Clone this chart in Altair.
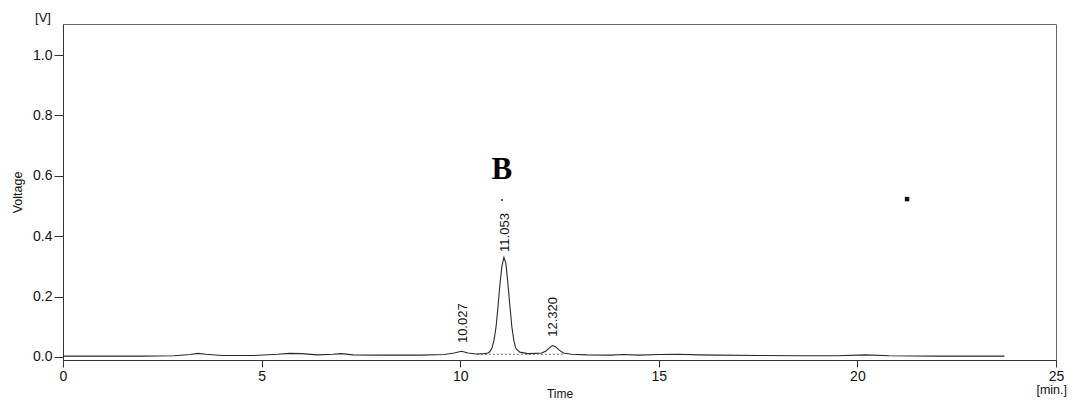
import altair as alt
import pandas as pd

# chromatogram trace (time in min, voltage in V)
time = [0.0, 1.0, 2.0, 2.8, 3.2, 3.4, 3.6, 4.0, 4.8, 5.4, 5.7, 6.0, 6.4, 6.8, 7.0, 7.3,
        8.0, 9.0, 9.6, 9.85, 10.03, 10.2, 10.4, 10.6, 10.7, 10.75, 10.8, 10.85, 10.9,
        10.95, 11.0, 11.05, 11.1, 11.15, 11.2, 11.25, 11.3, 11.35, 11.4, 11.5, 11.7,
        11.9, 12.05, 12.15, 12.25, 12.32, 12.4, 12.5, 12.6, 12.8, 13.2, 13.8, 14.1,
        14.5, 15.0, 15.5, 16.0, 16.5, 17.5, 18.5, 19.5, 20.2, 20.8, 22.0, 23.0, 23.7]
voltage = [0.003, 0.003, 0.003, 0.004, 0.008, 0.012, 0.009, 0.005, 0.005, 0.009, 0.012,
           0.011, 0.007, 0.009, 0.011, 0.007, 0.006, 0.006, 0.008, 0.013, 0.019, 0.013,
           0.010, 0.011, 0.013, 0.018, 0.030, 0.055, 0.097, 0.164, 0.240, 0.300, 0.330,
           0.310, 0.245, 0.170, 0.100, 0.055, 0.028, 0.016, 0.011, 0.012, 0.013, 0.019,
           0.030, 0.038, 0.034, 0.022, 0.013, 0.009, 0.007, 0.006, 0.008, 0.006, 0.008,
           0.009, 0.007, 0.006, 0.005, 0.004, 0.004, 0.007, 0.004, 0.003, 0.003, 0.003]

# peak labels
peak_time = [10.07, 11.12, 12.34]
peak_top = [0.046, 0.348, 0.067]
peak_label = ["10.027", "11.053", "12.320"]

# dashed baseline under peaks
base_time = [10.42, 12.6]
base_volt = [0.009, 0.009]

x_ticks = [0, 5, 10, 15, 20, 25]
y_ticks = [0.0, 0.2, 0.4, 0.6, 0.8, 1.0]

trace = pd.DataFrame({"t": time, "v": voltage})
peaks = pd.DataFrame({"t": peak_time, "v": peak_top, "label": peak_label})
base = pd.DataFrame({"t": base_time, "v": base_volt})

xs = alt.Scale(domain=[0, 25], nice=False, zero=False)
ys = alt.Scale(domain=[-0.01, 1.103], nice=False, zero=False)

x_enc = alt.X("t:Q", scale=xs, axis=alt.Axis(
    values=x_ticks, title="Time", format="d", labelFlush=False,
    labelFont="Liberation Sans", labelFontSize=14, labelColor="#111",
    titleFont="Liberation Sans", titleFontSize=12, titleFontWeight="normal",
    titleColor="#111", titlePadding=5, tickSize=7, tickColor="#333",
    domainColor="#333", labelPadding=2, grid=False))
y_enc = alt.Y("v:Q", scale=ys, axis=alt.Axis(
    values=y_ticks, title="Voltage", format=".1f", labelFlush=False,
    labelFont="Liberation Sans", labelFontSize=14, labelColor="#111",
    titleFont="Liberation Sans", titleFontSize=12.5, titleFontWeight="normal",
    titleColor="#111", titlePadding=8, tickSize=9, tickColor="#333",
    domainColor="#333", labelPadding=2, grid=False))

line = alt.Chart(trace).mark_line(color="#2a2a2a", strokeWidth=1.1).encode(x=x_enc, y=y_enc)

dash = alt.Chart(base).mark_line(color="#444", strokeWidth=0.8, strokeDash=[2, 2]).encode(
    x="t:Q", y="v:Q")

labels = alt.Chart(peaks).mark_text(
    angle=270, align="left", baseline="middle", font="Liberation Sans",
    fontSize=13, color="#111").encode(x="t:Q", y="v:Q", text="label:N")

ann = pd.DataFrame({"t": [11.05], "v": [0.589], "label": ["B"]})
b_text = alt.Chart(ann).mark_text(
    font="Liberation Serif", fontSize=31, fontWeight="bold", color="#000",
    baseline="alphabetic", align="center").encode(x="t:Q", y="v:Q", text="label:N")

dots = pd.DataFrame({"t": [11.05, 21.25], "v": [0.52, 0.523], "s": [3, 20]})
dot = alt.Chart(dots).mark_point(filled=True, color="#111", shape="square", opacity=1).encode(
    x="t:Q", y="v:Q", size=alt.Size("s:Q", scale=None, legend=None))

unit = pd.DataFrame({"t": [0], "v": [1.103], "label": ["[V]"]})
v_unit = alt.Chart(unit).mark_text(
    font="Liberation Sans", fontSize=13, color="#111", align="center",
    baseline="bottom", dx=-20, dy=1).encode(x="t:Q", y="v:Q", text="label:N")

xunit = pd.DataFrame({"t": [25], "v": [-0.01], "label": ["[min.]"]})
x_unit = alt.Chart(xunit).mark_text(
    font="Liberation Sans", fontSize=12.5, color="#111", align="right",
    baseline="middle", dx=11, dy=30).encode(x="t:Q", y="v:Q", text="label:N")

chart = alt.layer(line, dash, labels, b_text, dot, v_unit, x_unit).properties(
    width=993, height=336,
    padding={"left": 55, "top": 16, "right": 12, "bottom": 40},
    autosize=alt.AutoSizeParams(type="none"),
    background="white",
).configure_view(stroke="#666", strokeWidth=1)

chart.save("out.html", embed_options={"renderer": "svg", "actions": False})
